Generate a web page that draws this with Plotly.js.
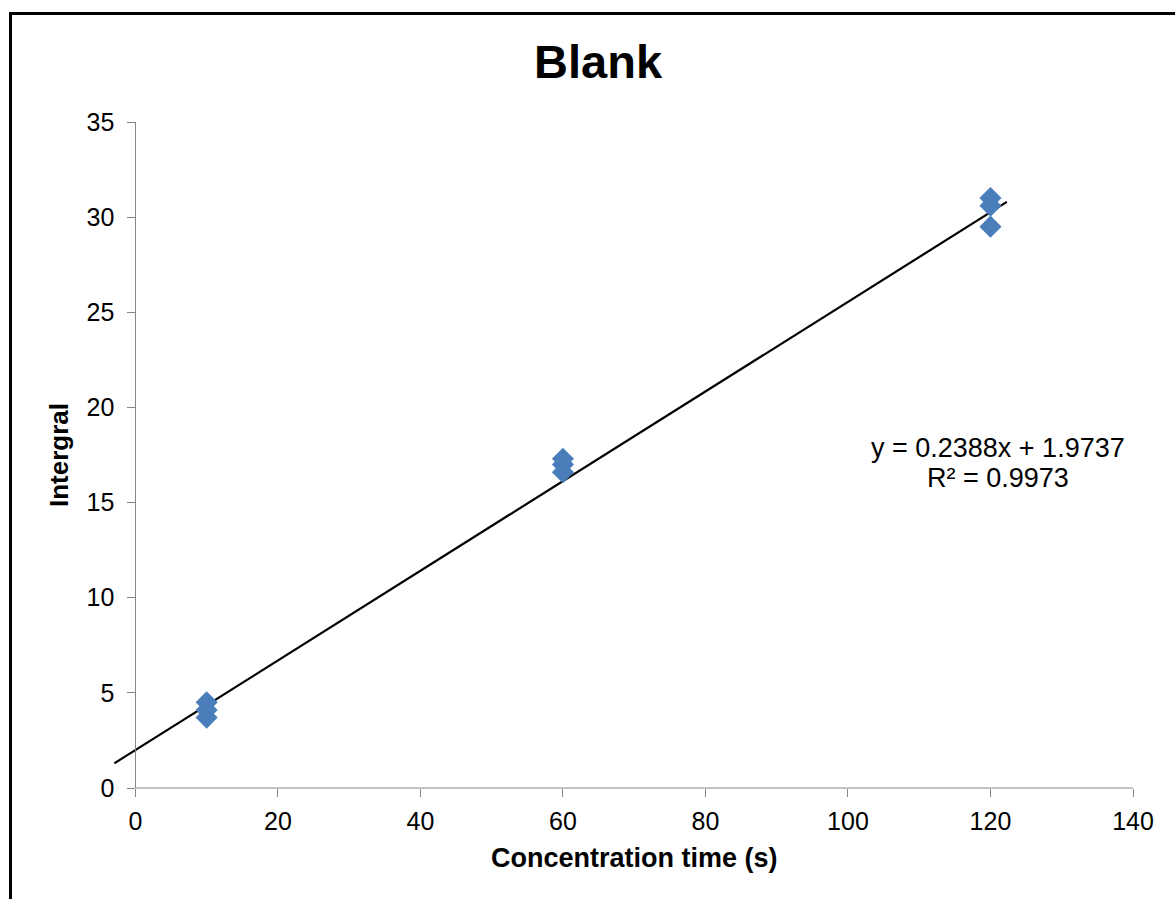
<!DOCTYPE html>
<html>
<head>
<meta charset="utf-8">
<script src="https://cdn.plot.ly/plotly-3.0.1.min.js"></script>
<style>
html,body{margin:0;padding:0;background:#fff;}
#wrap{position:relative;width:1175px;height:899px;}
#chart{width:1175px;height:899px;}
#frame{position:absolute;left:9px;top:12px;width:1200px;height:1000px;border-top:3px solid #000;border-left:3px solid #000;pointer-events:none;}
</style>
</head>
<body>
<div id="wrap"><div id="chart"></div><div id="frame"></div></div>
<script>
// Data
var timeX = [10, 10, 10, 60, 60, 60, 120, 120, 120];
var integralY = [4.5, 4.1, 3.7, 17.3, 17.0, 16.6, 31.0, 30.6, 29.5];
// trendline end points as drawn in the picture (y = 0.2388x + 1.9737)
var trendX = [-2.95, 122.3];
var trendY = [1.3, 30.8];
var eqText = ["y = 0.2388x + 1.9737", "R² = 0.9973"];
var xTitle = "Concentration time (s)";
var yTitle = "Intergral";
var xTicks = [0, 20, 40, 60, 80, 100, 120, 140];
var yTicks = [0, 5, 10, 15, 20, 25, 30, 35];

var xMin = -3, xMax = 140;
var FONT = 'Arial, Liberation Sans, sans-serif';

var traces = [
  {
    x: trendX, y: trendY, mode: 'lines', type: 'scatter',
    line: {color: '#000000', width: 2.2}, hoverinfo: 'skip'
  },
  {
    x: timeX, y: integralY, mode: 'markers', type: 'scatter',
    marker: {symbol: 'diamond', size: 17, color: '#4A7EBB', line: {width: 0}},
    cliponaxis: false
  }
];

var axisCommon = {
  showgrid: false, zeroline: false, linecolor: '#868686', linewidth: 1,
  ticks: 'outside', ticklen: 8, tickcolor: '#868686', tickwidth: 1,
  tickfont: {family: FONT, size: 25, color: '#000'}
};

var plotW = 998 * (xMax - xMin) / 140;
var leftM = 1175 - 42 - plotW;

var layout = {
  width: 1175, height: 899,
  margin: {l: leftM, r: 42, t: 122, b: 111},
  paper_bgcolor: '#fff', plot_bgcolor: '#fff',
  showlegend: false,
  title: {text: '<b>Blank</b>', x: 0.509, xanchor: 'center', y: 0.932, yanchor: 'middle',
    font: {family: FONT, size: 47, color: '#000'}},
  xaxis: Object.assign({}, axisCommon, {
    range: [xMin, xMax], tickvals: xTicks, ticktext: xTicks.map(String),
    showline: false, ticklabelstandoff: 3
  }),
  yaxis: Object.assign({}, axisCommon, {
    range: [0, 35], tickvals: yTicks, ticktext: yTicks.map(String),
    showline: true, anchor: 'free', position: (0 - xMin) / (xMax - xMin),
    ticklabelstandoff: 8,
    title: {text: '<b>' + yTitle + '</b>', standoff: 9,
      font: {family: FONT, size: 26, color: '#000'}}
  }),
  shapes: [
    {type: 'line', xref: 'x', yref: 'paper', x0: 0, x1: 140, y0: 0, y1: 0,
     line: {color: '#868686', width: 1}, layer: 'above'}
  ],
  annotations: [
    {xref: 'paper', yref: 'paper', x: (998 - leftM) / plotW, y: (788 - 448) / 666,
     xanchor: 'center', yanchor: 'middle', text: eqText[0], showarrow: false,
     font: {family: FONT, size: 27, color: '#000'}},
    {xref: 'paper', yref: 'paper', x: (998 - leftM) / plotW, y: (788 - 478) / 666,
     xanchor: 'center', yanchor: 'middle', text: eqText[1], showarrow: false,
     font: {family: FONT, size: 27, color: '#000'}},
    {xref: 'paper', yref: 'paper', x: (634 - leftM) / plotW, y: -(858 - 788) / 666,
     xanchor: 'center', yanchor: 'middle', text: '<b>' + xTitle + '</b>', showarrow: false,
     font: {family: FONT, size: 27, color: '#000'}}
  ]
};

Plotly.newPlot('chart', traces, layout, {displayModeBar: false, staticPlot: true});
</script>
</body>
</html>
